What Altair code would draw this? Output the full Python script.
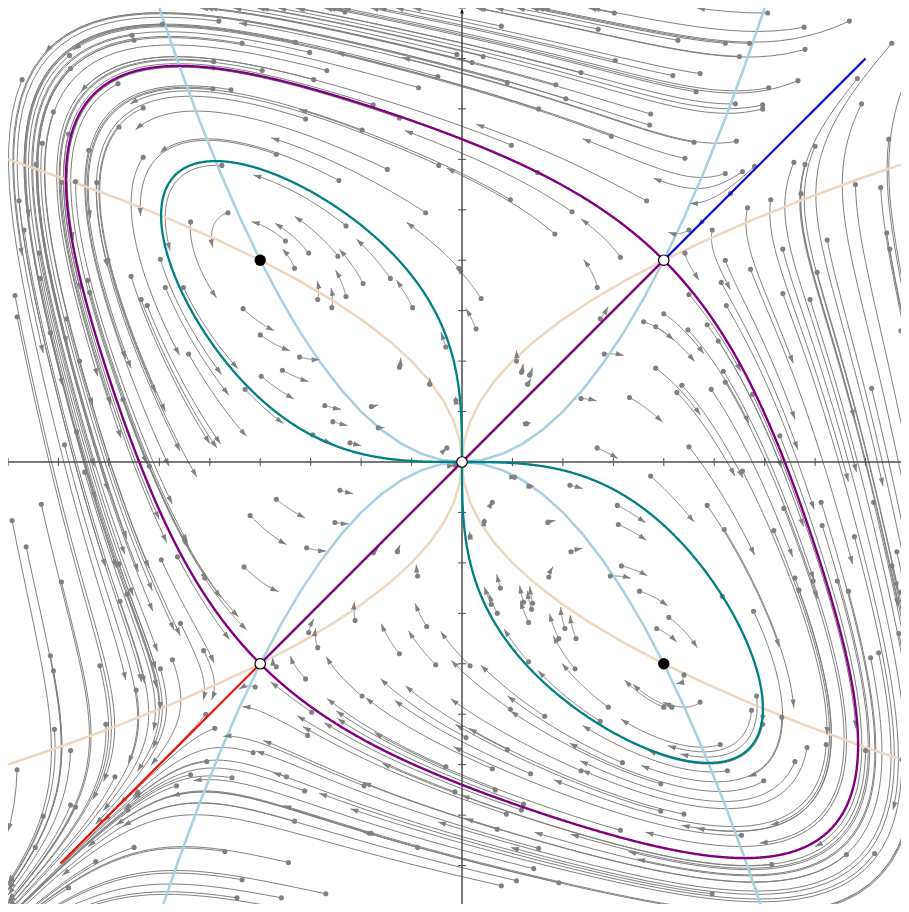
import math
import numpy as np
import pandas as pd
import altair as alt

# ---------------- data ----------------
# phase plane of  x' = x^2 - y^4/4 ,  y' = y^2 - x^4/4
saddle_x = [2.0, -2.0, 0.0]
saddle_y = [2.0, -2.0, 0.0]
center_x = [-2.0, 2.0]
center_y = [2.0, -2.0]

# start points (grey dots) of the streamlines
start_pts = [
    (-2.41,4.37),(-2.97,4.34),(-3.27,4.23),(-3.25,4.18),(-2.18,4.15),(-1.65,4.16),(-3.89,4.03),(-2.46,3.97),
    (-1.98,3.88),(-3.88,3.90),(-4.36,3.79),(-3.41,3.75),(-2.47,3.70),(-2.29,3.69),(-3.16,3.51),(-4.05,3.47),
    (-3.40,3.32),(-3.90,3.25),(-4.16,3.16),(-3.70,3.09),(-1.84,3.05),(-3.16,3.02),(-2.38,2.94),(-4.22,2.95),
    (-3.97,2.77),(-3.83,2.78),(-3.62,2.77),(-4.39,2.59),(-2.32,2.47),(-2.69,2.38),(-4.34,2.30),(-1.75,2.19),
    (-1.66,1.92),(-4.19,2.07),(-2.99,2.01),(-3.28,1.84),(-2.94,1.73),(-2.76,1.73),(-4.43,1.65),(-4.18,1.82),
    (-3.71,1.80),(-3.51,2.00),(-3.18,1.61),(-3.69,1.68),
    (-1.16,4.46),(0.39,4.32),(1.35,4.29),(-1.51,4.06),(-0.05,4.04),(0.21,4.02),(0.10,3.96),(-1.34,3.88),
    (1.18,3.86),(-1.47,3.79),(-0.24,3.82),(0.93,3.74),(-0.43,3.71),(0.45,3.76),(1.03,3.60),(0.76,3.50),
    (-0.88,3.54),(-0.62,3.41),(-1.55,3.40),(-0.99,3.29),(0.49,3.14),(-0.23,2.94),(-0.74,2.90),(0.75,2.87),
    (-1.22,2.79),(0.48,2.60),(-0.36,2.47),(1.09,2.48),(0.92,2.26),(-1.15,2.34),(-1.52,2.07),(-1.23,2.04),
    (-0.03,1.92),(-0.71,1.82),(-0.98,1.77),(-1.15,1.64),(-1.43,1.61),(0.19,1.62),(1.34,1.73),
    (3.03,4.45),(1.51,4.45),(3.39,4.31),(3.84,4.37),(2.14,4.18),(2.61,4.15),(2.85,4.15),(3.40,4.09),
    (2.75,4.02),(4.26,4.15),(1.52,3.98),(2.36,3.85),(2.09,3.83),(3.33,3.78),(2.32,3.67),(3.04,3.71),
    (3.92,3.80),(4.39,3.77),(2.71,3.55),(2.98,3.54),(2.98,3.50),(3.96,3.55),(1.87,3.45),(1.86,3.34),
    (1.48,3.23),(2.30,3.17),(2.72,3.18),(4.23,3.20),(3.50,3.13),(2.21,3.01),(4.40,3.05),(3.29,2.97),
    (3.40,2.95),(2.61,2.86),(2.78,2.88),(2.90,2.93),(1.83,2.59),(3.06,2.60),(3.90,2.75),(4.15,2.72),
    (3.36,2.66),(2.83,2.52),(2.66,2.66),(2.25,2.30),(2.48,2.30),(3.62,2.20),(4.21,2.27),(4.24,2.11),
    (3.18,2.11),(2.21,2.07),(1.57,2.03),(2.61,2.00),(2.86,1.91),(3.52,1.88),(2.57,1.78),(3.18,1.67),
    (2.25,1.66),(3.45,1.61),
    (-4.41,1.44),(-3.92,1.42),(-4.08,1.28),(-2.17,1.52),(-2.00,1.26),(-1.61,1.04),(-1.78,0.91),(-1.99,0.85),
    (-2.15,0.72),(-2.71,1.07),(-3.12,1.55),(-3.36,0.62),(-3.79,1.00),(-3.82,0.30),(-3.94,0.17),(-3.74,-0.10),
    (-3.10,-0.04),(-4.17,-0.42),(-4.46,-0.58),(-4.32,-0.84),(-3.97,-1.19),(-2.98,-0.97),(-2.82,-0.94),
    (-2.75,-0.77),(-2.55,-1.15),(-1.84,-0.37),(-2.10,-0.53),(-2.16,-1.04),(-3.40,-1.01),(-3.39,-1.38),
    (-3.32,-1.31),
    (-1.29,1.53),(-0.49,1.53),(0.14,1.32),(-0.16,1.14),(-0.62,0.94),(-0.32,0.77),(0.54,1.00),(0.59,0.89),
    (0.67,0.86),(0.65,0.77),(1.37,1.42),(1.41,1.07),(-0.06,0.61),(-1.36,0.56),(-0.90,0.55),(-1.28,0.40),
    (-0.83,0.34),(-1.11,0.19),(-1.48,0.27),(0.64,0.38),(1.18,0.63),(1.34,0.14),(-0.15,0.14),(-0.07,-0.03),
    (0.52,-0.15),(0.67,-0.24),(1.07,-0.23),(-1.21,-0.28),(0.30,-0.40),(0.22,-0.59),(-1.26,-0.60),(0.85,-0.60),
    (0.08,-0.74),(-0.64,-0.89),(-1.54,-0.85),(-0.88,-0.90),(1.08,-0.89),(-0.44,-1.13),(0.86,-1.14),
    (0.38,-1.25),(0.29,-1.41),(0.61,-1.39),(0.70,-1.40),
    (2.00,1.47),(1.80,1.39),(1.92,1.34),(2.24,1.31),(2.43,1.36),(2.62,1.55),(2.54,1.20),(1.92,0.93),
    (2.18,0.76),(2.13,0.69),(1.66,0.64),(2.47,0.72),(2.59,0.90),(2.61,0.79),(2.88,0.67),(3.15,0.26),
    (2.25,0.15),(2.78,-0.09),(4.06,0.73),(4.35,1.30),(1.87,-0.14),(1.54,-0.43),(1.55,-0.62),(2.43,-0.43),
    (2.60,-0.67),(3.19,-0.46),(3.56,-0.40),(3.57,-0.63),(3.09,-0.68),(3.89,-0.74),(4.08,-0.40),(4.31,-0.89),
    (1.58,-1.03),(1.47,-1.13),(1.76,-1.28),(3.30,-1.15),(3.48,-1.18),(3.34,-1.27),(3.72,-1.18),(3.83,-1.28),
    (4.26,-1.03),(4.35,-1.29),(2.58,-1.33),
    (-4.08,-1.92),(-4.05,-2.07),(-3.59,-2.02),(-4.04,-2.65),(-3.88,-2.86),(-4.41,-3.05),(-3.53,-2.60),
    (-3.23,-2.26),(-2.99,-2.05),(-2.87,-1.96),(-2.79,-1.60),(-2.56,-1.87),(-3.44,-3.12),(-3.88,-3.40),
    (-3.83,-3.42),(-4.15,-3.51),(-4.23,-3.82),(-3.31,-3.45),(-3.21,-3.28),(-2.54,-2.50),(-2.45,-2.64),
    (-2.05,-2.23),(-1.84,-2.03),(-2.07,-2.88),(-2.53,-2.97),(-2.69,-3.10),(-2.83,-3.21),(-2.28,-3.13),
    (-1.74,-3.12),(-1.66,-3.56),(-3.25,-3.82),(-3.63,-3.96),(-2.35,-3.86),(-1.72,-3.97),(-3.90,-4.22),
    (-2.18,-4.14),(-1.79,-4.32),(-2.23,-4.32),(-1.85,-4.41),
    (-1.06,-1.57),(-1.52,-1.69),(-1.43,-1.84),(-0.35,-1.63),(-0.62,-1.90),(-0.26,-2.01),(0.08,-2.02),
    (-1.55,-2.15),(-0.99,-2.32),(-1.49,-2.48),(-1.53,-2.71),(0.04,-2.73),(-0.16,-3.02),(-0.97,-3.21),
    (-0.07,-3.27),(-1.56,-3.26),(0.35,-1.50),(0.66,-1.59),(0.69,-1.46),(0.96,-1.75),(1.02,-1.65),
    (1.13,-1.75),(1.12,-2.05),(0.66,-1.98),(0.82,-2.52),(0.48,-2.45),(1.37,-2.57),(0.45,-2.85),(0.30,-3.04),
    (0.68,-3.09),(1.18,-3.06),(0.33,-3.25),(0.61,-3.39),(0.59,-3.45),(0.44,-3.49),(0.35,-3.64),(0.76,-3.83),
    (0.71,-4.03),(0.54,-4.15),(0.39,-4.20),(0.96,-4.17),(-0.44,-3.82),(-0.90,-3.68),(-1.35,-4.28),
    (2.05,-1.54),(1.93,-1.65),(2.89,-1.48),(2.20,-2.11),(2.36,-2.38),(2.00,-2.43),(2.08,-2.43),(1.45,-2.43),
    (2.92,-2.32),(2.87,-2.46),(2.98,-2.60),(3.17,-2.53),(2.56,-2.80),(3.42,-2.83),(3.61,-2.80),(3.30,-2.97),
    (2.63,-3.06),(2.99,-3.16),(1.59,-2.98),(1.97,-3.19),(1.97,-3.46),(2.20,-3.49),(1.57,-3.65),(2.77,-3.70),
    (3.07,-3.99),(3.81,-3.89),(4.09,-3.88),(4.38,-3.68),(2.48,-4.28),(4.22,-4.42),(4.05,-1.94),(4.13,-1.89),
    (4.33,-1.70),(4.00,-2.86),(4.36,-2.95),
]

# invariant diagonal pieces (stable manifold beyond the upper saddle, unstable beyond the lower one)
blue_x = [2.0, 4.0]
blue_y = [2.0, 4.0]
red_x = [-2.0, -3.98]
red_y = [-2.0, -3.98]
diag_x = [-2.0, 2.0]
diag_y = [-2.0, 2.0]

tick_vals = [-4.5, -4.0, -3.5, -3.0, -2.5, -2.0, -1.5, -1.0, -0.5,
             0.5, 1.0, 1.5, 2.0, 2.5, 3.0, 3.5, 4.0, 4.5]

LIM = 4.5
T_STREAM = 0.1
N_STEPS = 50


def field(x, y):
    return x * x - y ** 4 / 4.0, y * y - x ** 4 / 4.0


def rk4(x, y, h, norm=False):
    def f(px, py):
        u, v = field(px, py)
        if norm:
            s = math.hypot(u, v)
            if s == 0:
                return 0.0, 0.0
            return u / s, v / s
        return u, v
    k1 = f(x, y)
    k2 = f(x + h / 2 * k1[0], y + h / 2 * k1[1])
    k3 = f(x + h / 2 * k2[0], y + h / 2 * k2[1])
    k4 = f(x + h * k3[0], y + h * k3[1])
    return (x + h / 6 * (k1[0] + 2 * k2[0] + 2 * k3[0] + k4[0]),
            y + h / 6 * (k1[1] + 2 * k2[1] + 2 * k3[1] + k4[1]))


def stream(x0, y0):
    pts = [(x0, y0)]
    x, y = x0, y0
    h = T_STREAM / N_STEPS
    for _ in range(N_STEPS):
        nx, ny = rk4(x, y, h)
        if not (math.isfinite(nx) and math.isfinite(ny)) or abs(nx) > LIM or abs(ny) > LIM:
            s = 1.0
            if math.isfinite(nx) and math.isfinite(ny):
                if nx > LIM: s = min(s, (LIM - x) / (nx - x))
                if nx < -LIM: s = min(s, (-LIM - x) / (nx - x))
                if ny > LIM: s = min(s, (LIM - y) / (ny - y))
                if ny < -LIM: s = min(s, (-LIM - y) / (ny - y))
                pts.append((x + s * (nx - x), y + s * (ny - y)))
            break
        x, y = nx, ny
        pts.append((x, y))
    return pts


line_rows, arrow_rows, dot_rows = [], [], []
for i, (sx, sy) in enumerate(start_pts):
    pts = stream(sx, sy)
    for k, (px, py) in enumerate(pts):
        line_rows.append({"id": i, "k": k, "x": round(px, 4), "y": round(py, 4)})
    ex, ey = pts[-1]
    u, v = field(ex, ey)
    ang = math.degrees(math.atan2(-v, u)) % 360.0
    arrow_rows.append({"x": ex, "y": ey, "angle": ang})
    dot_rows.append({"x": sx, "y": sy})

lines_df = pd.DataFrame(line_rows)
arrows_df = pd.DataFrame(arrow_rows)
dots_df = pd.DataFrame(dot_rows)


def half_orbit(x0, y0, h=0.01):
    pts = [(x0, y0)]
    x, y = x0, y0
    for i in range(6000):
        x, y = rk4(x, y, h, norm=True)
        pts.append((x, y))
        if i > 20 and x + y < 0:
            break
    return pts


def full_orbit(half):
    return half + [(-py, -px) for (px, py) in reversed(half)]


purple_ul = full_orbit(half_orbit(2.0 - 1e-4, 2.0 + 1e-4))
purple_lr = [(py, px) for (px, py) in purple_ul]
teal_ul = full_orbit(half_orbit(0.0, 1e-3))
teal_lr = [(py, px) for (px, py) in teal_ul]


def curve_df(pieces):
    rows = []
    for name, pts in pieces:
        for k, (px, py) in enumerate(pts):
            rows.append({"name": name, "k": k, "x": px, "y": py})
    return pd.DataFrame(rows)


purple_df = curve_df([("ul", purple_ul), ("lr", purple_lr), ("diag", list(zip(diag_x, diag_y)))])
teal_df = curve_df([("ul", teal_ul), ("lr", teal_lr)])
blue_df = curve_df([("b", list(zip(blue_x, blue_y)))])
red_df = curve_df([("r", list(zip(red_x, red_y)))])

# nullclines: y = +/- x^2/2 (light blue), x = +/- y^2/2 (tan)
s_vals = np.round(np.arange(-3.0, 3.0001, 0.2), 3)
nb_rows, nt_rows = [], []
for k, s in enumerate(s_vals):
    nb_rows.append({"name": "b1", "k": k, "x": s, "y": s * abs(s) / 2})
    nb_rows.append({"name": "b2", "k": k, "x": s, "y": -s * abs(s) / 2})
    nt_rows.append({"name": "t1", "k": k, "x": s * abs(s) / 2, "y": s})
    nt_rows.append({"name": "t2", "k": k, "x": -s * abs(s) / 2, "y": s})
nb_df = pd.DataFrame(nb_rows)
nt_df = pd.DataFrame(nt_rows)

ticks_df = pd.DataFrame(
    [{"x": v, "x2": v, "y": -0.04, "y2": 0.04} for v in tick_vals]
    + [{"x": -0.04, "x2": 0.04, "y": v, "y2": v} for v in tick_vals]
)
axes_df = pd.DataFrame([
    {"x": -4.5, "x2": 4.5, "y": 0.0, "y2": 0.0},
    {"x": 0.0, "x2": 0.0, "y": -4.5, "y2": 4.47},
])
saddle_df = pd.DataFrame({"x": saddle_x, "y": saddle_y})
center_df = pd.DataFrame({"x": center_x, "y": center_y})
arrow_top_df = pd.DataFrame({"x": [0.0], "y": [4.5]})

# ---------------- chart ----------------
PX = 908 / 9.0          # pixels per unit
W, H = 893, 896         # keep the page inside the window
xs = alt.Scale(domain=[-4.5, -4.5 + W / PX], nice=False, zero=False)
ys = alt.Scale(domain=[4.5 - H / PX, 4.5], nice=False, zero=False)
X = lambda f="x": alt.X(f"{f}:Q", scale=xs, axis=None)
Y = lambda f="y": alt.Y(f"{f}:Q", scale=ys, axis=None)


def path_layer(df, color, width):
    return alt.Chart(df).mark_line(strokeWidth=width, color=color, clip=True).encode(
        x=X(), y=Y(), detail="name:N", order="k:Q"
    )


stream_layer = alt.Chart(lines_df).mark_line(strokeWidth=1, color="#808080", clip=True).encode(
    x=X(), y=Y(), detail="id:N", order="k:Q"
)
nb_layer = path_layer(nb_df, "#a9cfe0", 2.5)
nt_layer = path_layer(nt_df, "#eed7c1", 2.5)

dots_layer = alt.Chart(dots_df).mark_circle(size=26, color="#808080", opacity=1, clip=True).encode(
    x=X(), y=Y()
)

arrow_layer = alt.Chart(arrows_df).mark_point(
    shape="M0,0L-2,-0.65L-2,0.65Z", size=64, filled=True, color="#808080", opacity=1, clip=True
).encode(x=X(), y=Y(), angle=alt.Angle("angle:Q", scale=None))

axes_layer = alt.Chart(axes_df).mark_rule(color="#4d4d4d", strokeWidth=1.5).encode(
    x=X(), x2="x2:Q", y=Y(), y2="y2:Q"
)
ticks_layer = alt.Chart(ticks_df).mark_rule(color="#4d4d4d", strokeWidth=1).encode(
    x=X(), x2="x2:Q", y=Y(), y2="y2:Q"
)
arrow_top = alt.Chart(arrow_top_df).mark_point(
    shape="M0,0L-0.6,1.8L0.6,1.8Z", size=36, filled=True, color="#111111", opacity=1
).encode(x=X(), y=Y())

teal_layer = path_layer(teal_df, "#008080", 2.3)
purple_layer = path_layer(purple_df, "#800080", 2.4)
blue_layer = path_layer(blue_df, "#0000dd", 2.2)
red_layer = path_layer(red_df, "#ee1100", 2.2)

saddle_layer = alt.Chart(saddle_df).mark_point(
    shape="circle", size=110, filled=True, fill="white", stroke="black", strokeWidth=1.2, opacity=1
).encode(x=X(), y=Y())
center_layer = alt.Chart(center_df).mark_point(
    shape="circle", size=130, filled=True, color="black", opacity=1
).encode(x=X(), y=Y())

chart = alt.layer(
    stream_layer, nb_layer, nt_layer, dots_layer, arrow_layer, axes_layer, ticks_layer, arrow_top,
    teal_layer, purple_layer, blue_layer, red_layer, saddle_layer, center_layer
).properties(
    width=W, height=H, padding=0, autosize=alt.AutoSizeParams(type="none"), background="white"
).configure_view(stroke=None)

chart.save("out.html", embed_options={"renderer": "svg", "actions": False})
